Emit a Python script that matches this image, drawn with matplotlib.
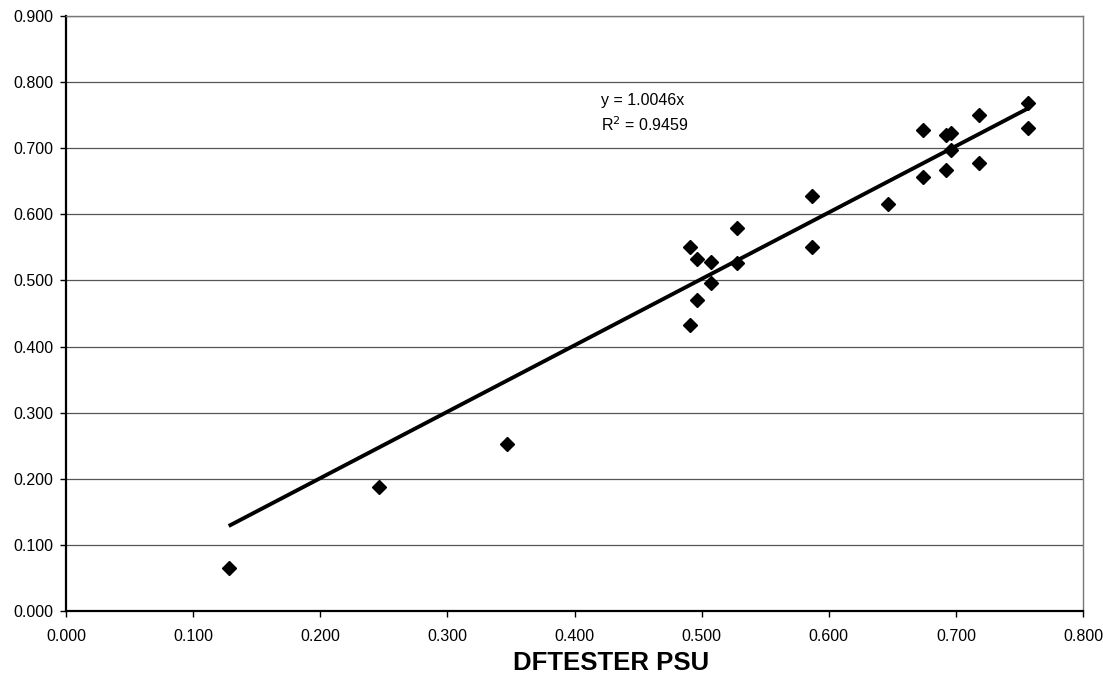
import matplotlib.pyplot as plt
import numpy as np

plt.rcParams['font.family'] = ['Liberation Sans', 'DejaVu Sans']

# DFTESTER PSU vs reference values
x_psu = [0.128, 0.246, 0.347, 0.491, 0.496, 0.507, 0.528, 0.528, 0.587, 0.507,
         0.496, 0.491, 0.757, 0.718, 0.674, 0.692, 0.696, 0.757, 0.696, 0.718,
         0.692, 0.674, 0.587, 0.647]
y_ref = [0.065, 0.188, 0.252, 0.551, 0.533, 0.528, 0.579, 0.527, 0.551, 0.496,
         0.471, 0.433, 0.768, 0.751, 0.727, 0.720, 0.723, 0.730, 0.698, 0.677,
         0.667, 0.657, 0.628, 0.615]
slope = 1.0046
r2 = 0.9459

x = np.array(x_psu)
y = np.array(y_ref)

fig = plt.figure(figsize=(11.03, 6.82), dpi=100)
ax = fig.add_axes([66/1103, 1 - 611/682, (1083-66)/1103, (611-16)/682])

ax.set_xlim(0, 0.8)
ax.set_ylim(0, 0.9)
xt = np.arange(0, 0.81, 0.1)
yt = np.arange(0, 0.91, 0.1)
ax.set_xticks(xt)
ax.set_yticks(yt)
ax.set_xticklabels([f"{v:.3f}" for v in xt])
ax.set_yticklabels([f"{v:.3f}" for v in yt])
ax.tick_params(axis='both', labelsize=11.5, direction='out', length=4, width=1)
ax.tick_params(axis='x', pad=9)
ax.tick_params(axis='y', pad=5)
ax.yaxis.grid(True, color='#555555', linewidth=0.9)
ax.set_axisbelow(True)

for s in ['left', 'bottom']:
    ax.spines[s].set_linewidth(1.6)
    ax.spines[s].set_color('black')
for s in ['top', 'right']:
    ax.spines[s].set_linewidth(1.0)
    ax.spines[s].set_color('#777777')
    ax.spines[s].set_linestyle((0, (1, 1)))

ax.plot(x, y, linestyle='none', marker='D', markersize=7, color='black', zorder=3)

xl = np.array([x.min(), x.max()])
ax.plot(xl, slope * xl, color='black', linewidth=2.8, zorder=2,
        solid_capstyle='butt')

ax.text(0.4205, 0.753, f"y = {slope}x\nR$^2$ = {r2}", fontsize=11.5,
        va='center', ha='left', linespacing=1.45)

fig.text(611/1103, 1 - 663/682, "DFTESTER PSU", fontsize=18.5,
         fontweight='bold', ha='center', va='center')

fig.savefig("out.png", dpi=100, facecolor='white')
